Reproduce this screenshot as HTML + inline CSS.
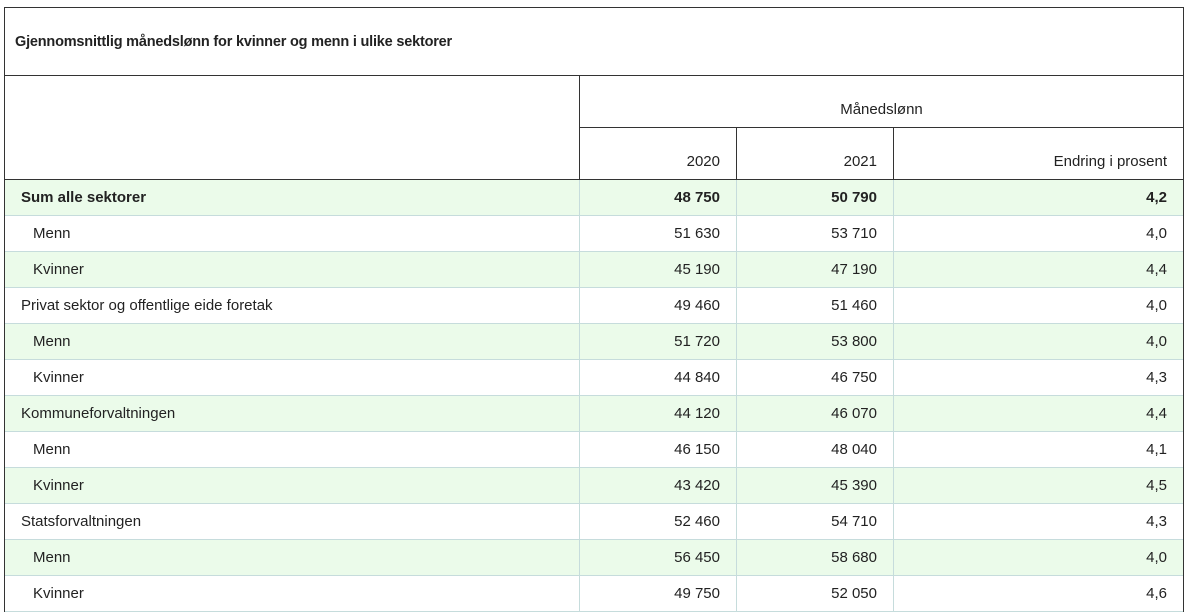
<!DOCTYPE html>
<html><head><meta charset="utf-8"><style>
body{margin:0;width:1188px;height:616px;background:#fff;font-family:"Liberation Sans",sans-serif;color:#222;position:relative;overflow:hidden}
.box{position:absolute;box-sizing:border-box}
.t{position:absolute;font-size:15px;white-space:nowrap}
.r{text-align:right}
</style></head><body>
<div class="box" style="left:4px;top:7px;width:1180px;height:605px;border:1px solid #333"></div>
<div class="t" style="left:15px;top:34px;font-size:14.5px;font-weight:bold;letter-spacing:-0.2px">Gjennomsnittlig månedslønn for kvinner og menn i ulike sektorer</div>
<div class="box" style="left:4px;top:75px;width:1180px;height:1px;background:#333"></div>
<div class="box" style="left:4px;top:179px;width:1180px;height:1px;background:#333"></div>
<div class="box" style="left:579px;top:127px;width:605px;height:1px;background:#333"></div>
<div class="box" style="left:579px;top:75px;width:1px;height:104px;background:#333"></div>
<div class="box" style="left:736px;top:127px;width:1px;height:52px;background:#333"></div>
<div class="box" style="left:893px;top:127px;width:1px;height:52px;background:#333"></div>
<div class="t" style="left:579px;width:605px;text-align:center;top:101px">Månedslønn</div>
<div class="t r" style="left:580px;width:140px;top:153px">2020</div>
<div class="t r" style="left:737px;width:140px;top:153px">2021</div>
<div class="t r" style="left:894px;width:273px;top:153px">Endring i prosent</div>
<div id="rows"></div>
<script>
const labels=["Sum alle sektorer","Menn","Kvinner","Privat sektor og offentlige eide foretak","Menn","Kvinner","Kommuneforvaltningen","Menn","Kvinner","Statsforvaltningen","Menn","Kvinner"];
const v2020=["48 750","51 630","45 190","49 460","51 720","44 840","44 120","46 150","43 420","52 460","56 450","49 750"];
const v2021=["50 790","53 710","47 190","51 460","53 800","46 750","46 070","48 040","45 390","54 710","58 680","52 050"];
const change=["4,2","4,0","4,4","4,0","4,0","4,3","4,4","4,1","4,5","4,3","4,0","4,6"];
const indent=[0,1,1,0,1,1,0,1,1,0,1,1];
const green=[1,0,1,0,1,0,1,0,1,0,1,0];
const host=document.getElementById('rows');
labels.forEach((l,i)=>{
  const y=180+i*36;
  const row=document.createElement('div');
  
  
  row.className='box';
  row.style.cssText=`left:5px;top:${y}px;width:1178px;height:36px;background:${green[i]?'#ebfbea':'#fff'};border-bottom:1px solid #c6dcdc`;
  host.appendChild(row);
  [579,736,893].forEach(x=>{const d=document.createElement('div');d.className='box';
    
    
    d.style.cssText=`left:${x}px;top:${y}px;width:1px;height:36px;background:#c6dcdc`;host.appendChild(d);});
  const bold=i===0?'font-weight:bold;':'';
  const mk=(txt,css,name)=>{const d=document.createElement('div');d.className='t';d.textContent=txt;
    
    
    d.style.cssText=css+bold+`top:${y+9}px`;host.appendChild(d);};
  mk(l,`left:${indent[i]?33:21}px;`,'row-label');
  mk(v2020[i],'left:580px;width:140px;text-align:right;','value-2020');
  mk(v2021[i],'left:737px;width:140px;text-align:right;','value-2021');
  mk(change[i],'left:894px;width:273px;text-align:right;','value-change');
});
</script>
</body></html>
